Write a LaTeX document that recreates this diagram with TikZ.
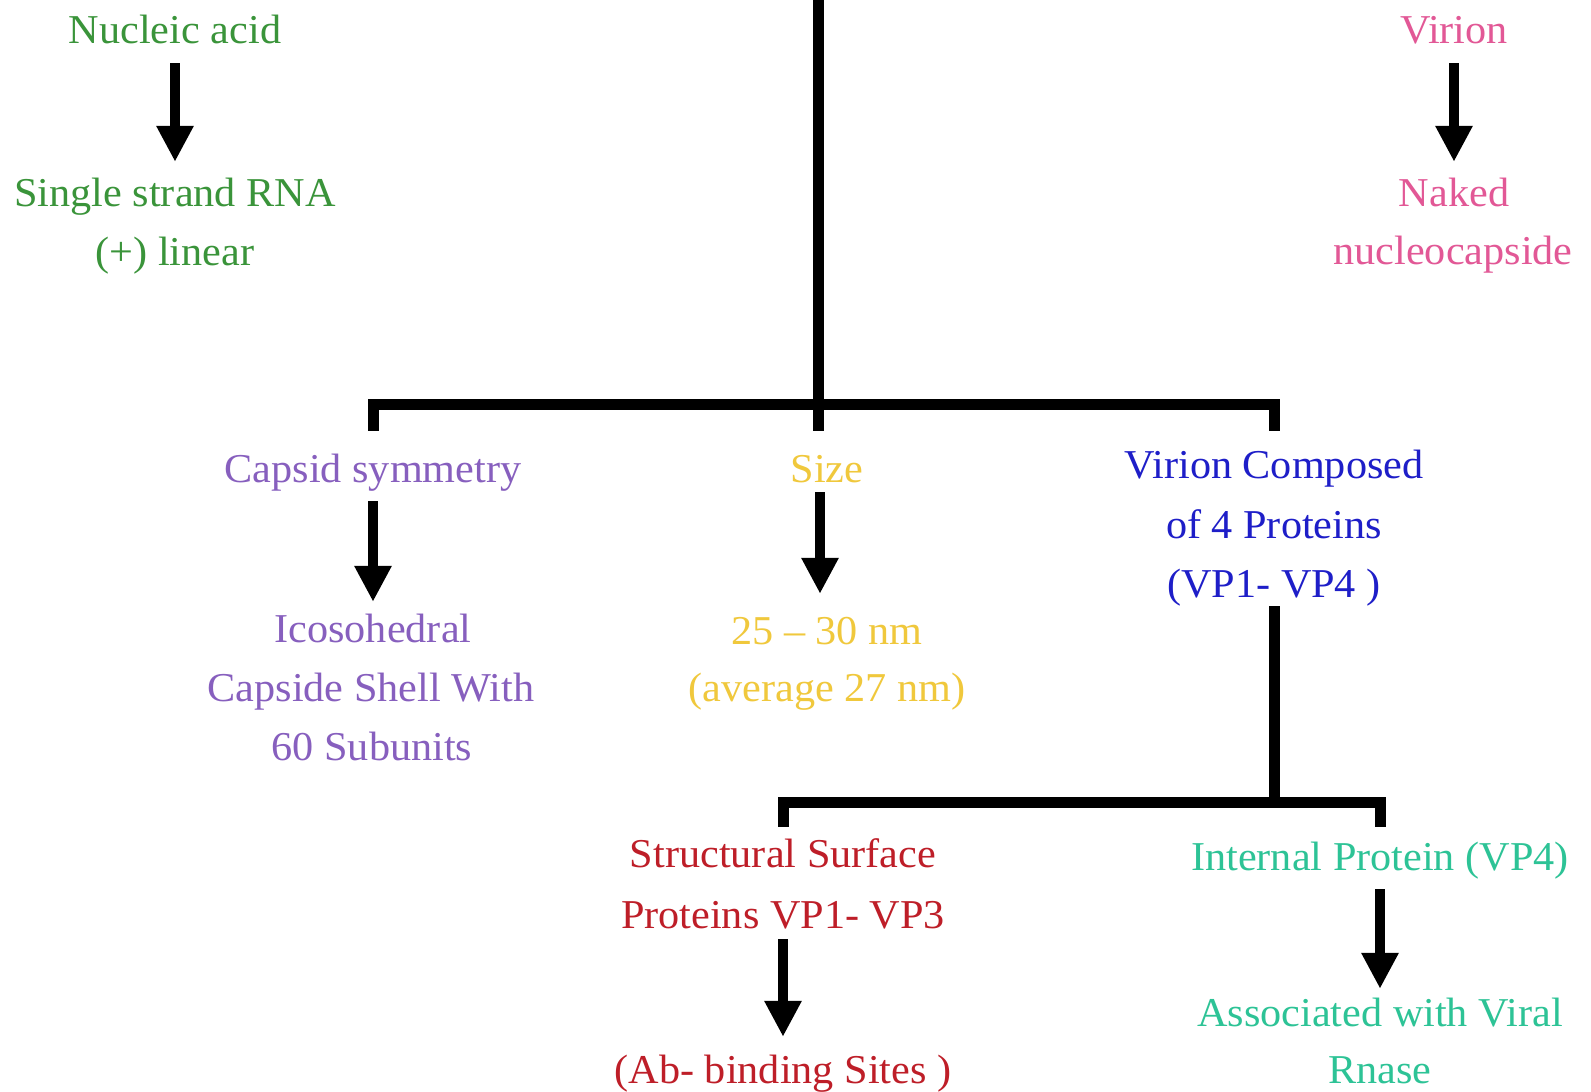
\documentclass[tikz,border=0pt]{standalone}
\usepackage{fontspec}
\setmainfont{Liberation Serif}[FakeStretch=1.03]
\usetikzlibrary{arrows.meta}
\definecolor{cgreen}{RGB}{58,148,58}
\definecolor{cpink}{RGB}{226,88,150}
\definecolor{cpurple}{RGB}{135,95,190}
\definecolor{cyellow}{RGB}{240,200,60}
\definecolor{cblue}{RGB}{30,30,200}
\definecolor{cred}{RGB}{190,30,40}
\definecolor{cteal}{RGB}{45,195,150}
\begin{document}
\begin{tikzpicture}[x=1pt,y=-1pt,
  txt/.style={inner sep=0pt, anchor=base, text height=28pt, text depth=9pt, font=\fontsize{41}{59}\selectfont},
  tree/.style={line width=11pt, line join=miter},
  arr/.style={line width=10.5pt, -{Triangle[width=35pt,length=36pt]}}]
\useasboundingbox[fill=white] (0,0) rectangle (1591,1092);
% texts
\node[txt,cgreen] (nuc) at (175,43) {Nucleic acid};
\node[txt,cgreen] (ssr1) at (175,206) {Single strand RNA};
\node[txt,cgreen] (ssr2) at (175,265) {(+) linear};
\node[txt,cpink] (vir) at (1454,43) {Virion};
\node[txt,cpink] (nak1) at (1454,206) {Naked};
\node[txt,cpink] (nak2) at (1453,264) {nucleocapside};
\node[txt,cpurple] (cap) at (373,482) {Capsid symmetry};
\node[txt,cpurple] (ico1) at (373,642) {Icosohedral};
\node[txt,cpurple] (ico2) at (371,701) {Capside Shell With};
\node[txt,cpurple] (ico3) at (372,760) {60 Subunits};
\node[txt,cyellow] (size) at (827,482) {Size};
\node[txt,cyellow] (nm1) at (827,644) {25 – 30 nm};
\node[txt,cyellow] (nm2) at (827,701) {(average 27 nm)};
\node[txt,cblue] (vc1) at (1274,478) {Virion Composed};
\node[txt,cblue] (vc2) at (1274,538) {of 4 Proteins};
\node[txt,cblue] (vc3) at (1274,597) {(VP1- VP4 )};
\node[txt,cred] (ss1) at (783,867) {Structural Surface};
\node[txt,cred] (ss2) at (783,928) {Proteins VP1- VP3};
\node[txt,cred] (ab) at (783,1083) {(Ab- binding Sites )};
\node[txt,cteal] (ip) at (1380,870) {Internal Protein (VP4)};
\node[txt,cteal] (as1) at (1380,1026) {Associated with Viral};
\node[txt,cteal] (as2) at (1380,1083) {Rnase};
% arrows
\draw[arr, shorten <=11pt, shorten >=16pt] (nuc) -- (ssr1);
\draw[arr, shorten <=11pt, shorten >=16pt] (vir) -- (nak1);
\draw[arr, shorten <=10pt, shorten >=12pt] (cap) -- (ico1);
\draw[arr, shorten <=1pt, shorten >=22pt] ([xshift=-7pt]size.south) -- ([xshift=-7pt]nm1.north);
\draw[arr, shorten <=2pt, shorten >=18pt] (ss2) -- (ab);
\draw[arr, shorten <=10pt, shorten >=9pt] (ip) -- (as1);
% tree lines
\coordinate (top) at (818,-10);
\coordinate (j1) at (818,404);
\coordinate (j2) at (1274,802);
\draw[tree] (top) -- ([xshift=-9pt,yshift=23pt]size.north);
\draw[tree] ([yshift=23pt]cap.north) |- (j1) -| ([yshift=19pt]vc1.north);
\draw[tree] (vc3.south) -- (j2);
\draw[tree] ([yshift=12pt]ss1.north) |- (j2) -| ([yshift=15pt]ip.north);
\end{tikzpicture}
\end{document}
